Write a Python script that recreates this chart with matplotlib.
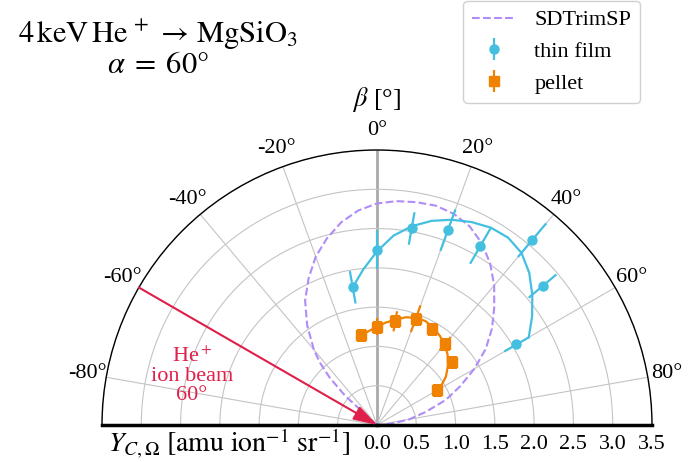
import numpy as np
import matplotlib
matplotlib.use("Agg")
import matplotlib.pyplot as plt

plt.rcParams['font.family'] = ['Liberation Serif', 'DejaVu Serif']
plt.rcParams['mathtext.fontset'] = 'stix'

# ---------------- data (angles in degrees, yields in amu/ion/sr) ----------------
sim_angle = [-48.5, -47.5, -45, -42.5, -40, -35, -30, -25, -20, -15, -10, -5, 0, 5, 10,
             15, 20, 25, 30, 35, 40, 45, 50, 55, 60, 65, 70, 75, 80, 85, 90]
sim_yield = [0.0, 0.55, 0.85, 1.07, 1.25, 1.55, 1.83, 2.06, 2.28, 2.46, 2.62, 2.74, 2.82, 2.86, 2.88,
             2.89, 2.86, 2.79, 2.67, 2.51, 2.32, 2.11, 1.91, 1.69, 1.43, 1.17, 0.93, 0.64, 0.42, 0.18, 0.0]

film_angle = [-10, 0, 10, 20, 30, 40, 50, 60]
film_yield = [1.78, 2.23, 2.54, 2.64, 2.63, 3.07, 2.75, 2.05]
film_err = [0.21, 0.25, 0.21, 0.28, 0.26, 0.28, 0.23, 0.18]

film_fit_angle = [-10, -5, 0, 5, 10, 15, 20, 25, 30, 35, 40, 45, 50, 55, 60]
film_fit_yield = [1.78, 1.99, 2.21, 2.42, 2.57, 2.69, 2.78, 2.85, 2.90, 2.91, 2.86, 2.74, 2.58, 2.41, 2.23]

pellet_angle = [-10, 0, 10, 20, 30, 40, 50, 60]
pellet_yield = [1.16, 1.25, 1.34, 1.44, 1.41, 1.35, 1.24, 0.88]
pellet_err = [0.05, 0.11, 0.13, 0.18, 0.04, 0.11, 0.06, 0.04]

pellet_fit_angle = [-10, -5, 0, 5, 10, 15, 20, 25, 30, 35, 40, 45, 50, 55, 60]
pellet_fit_yield = [1.16, 1.20, 1.25, 1.31, 1.36, 1.42, 1.45, 1.46, 1.43, 1.39, 1.34, 1.27, 1.18, 1.07, 0.92]

theta_ticks = [-80, -60, -40, -20, 0, 20, 40, 60, 80]
theta_ticklabels = ['-80°', '-60°', '-40°', '-20°', '0°', '20°', '40°', '60°', '80°']
r_ticks = [0.0, 0.5, 1.0, 1.5, 2.0, 2.5, 3.0, 3.5]
r_ticklabels = ['0.0', '0.5', '1.0', '1.5', '2.0', '2.5', '3.0', '3.5']
r_max = 3.5
beam_angle = -60

c_film = '#45bfe0'
c_pellet = '#ef8200'
c_sim = '#b08cf8'
c_beam = '#e0204a'

# ---------------- figure ----------------
W, H = 699, 462
fig = plt.figure(figsize=(W / 100, H / 100), dpi=100)
cx, cy, R = 377, 425, 275  # pixel centre (from top) and radius
ax = fig.add_axes([(cx - R) / W, (H - cy - R / 2) / H, 2 * R / W, 2 * R / H],
                  projection='polar')
ax.set_theta_zero_location('N')
ax.set_theta_direction(-1)
ax.set_thetamin(-90)
ax.set_thetamax(90)
ax.set_rlim(0, r_max)
ax.set_rticks(r_ticks)
ax.set_yticklabels(r_ticklabels)
ax.set_thetagrids(theta_ticks, theta_ticklabels)
ax.tick_params(axis='both', labelsize=16)
ax.tick_params(axis='y', labelleft=False, labelright=True)
ax.grid(color='#c4c4c4', lw=0.8)
# hide the thin 0-degree gridline; a thicker reference line is drawn instead
for tick in ax.xaxis.get_major_ticks():
    if abs(tick.get_loc()) < 1e-9:
        tick.gridline.set_visible(False)
ax.spines['polar'].set_linewidth(1.0)
ax.spines['start'].set_linewidth(2.5)
ax.spines['end'].set_linewidth(2.5)

# 0 deg reference line
ax.plot([0, 0], [0, r_max], color='#aaaaaa', lw=2.0, zorder=1.5)

th = np.deg2rad
sim_line, = ax.plot(th(np.array(sim_angle)), sim_yield, ls='--', color=c_sim, lw=1.5,
                    label='SDTrimSP', zorder=2)
ax.plot(th(np.array(film_fit_angle)), film_fit_yield, color=c_film, lw=1.6, zorder=3)
ax.plot(th(np.array(pellet_fit_angle)), pellet_fit_yield, color=c_pellet, lw=1.6, zorder=3)
film_eb = ax.errorbar(th(np.array(film_angle)), film_yield, yerr=film_err, fmt='o',
                      color=c_film, ms=6.5, elinewidth=1.6, capsize=0, label='thin film', zorder=4)
pellet_eb = ax.errorbar(th(np.array(pellet_angle)), pellet_yield, yerr=pellet_err, fmt='s',
                        color=c_pellet, ms=6.5, elinewidth=1.6, capsize=0, label='pellet', zorder=4)

# ion beam arrow
ax.annotate('', xy=(0, 0), xytext=(th(beam_angle), r_max),
            arrowprops=dict(arrowstyle='-|>,head_length=0.8,head_width=0.25', color=c_beam,
                            lw=1.5, mutation_scale=18, shrinkA=0, shrinkB=0), zorder=5)
fig.text(192 / W, 1 - 376 / H, 'He$^+$\nion beam\n60°', ha='center', va='center',
         color=c_beam, fontsize=16, linespacing=1.0)

# texts
fig.text(158 / W, 1 - 35 / H, r'$4\,\mathrm{keV}\,\mathrm{He}^{\,+}\,\rightarrow\,\mathrm{MgSiO}_3$',
         ha='center', va='center', fontsize=22)
fig.text(158 / W, 1 - 66 / H, r'$\alpha\;=\;60°$', ha='center', va='center', fontsize=22)
fig.text(377 / W, 1 - 100 / H, r'$\beta$ [°]', ha='center', va='center', fontsize=19)
fig.text(350 / W, 1 - 443 / H, r'$Y_{C,\Omega}\ [\mathrm{amu\ ion}^{-1}\ \mathrm{sr}^{-1}]$',
         ha='right', va='center', fontsize=20)

fig.legend(handles=[sim_line, film_eb, pellet_eb], loc='upper right',
           bbox_to_anchor=(640 / W, 1 - 1 / H), fontsize=16, frameon=True,
           edgecolor='#d0d0d0', framealpha=1, borderaxespad=0)

fig.savefig('out.png', dpi=100)
